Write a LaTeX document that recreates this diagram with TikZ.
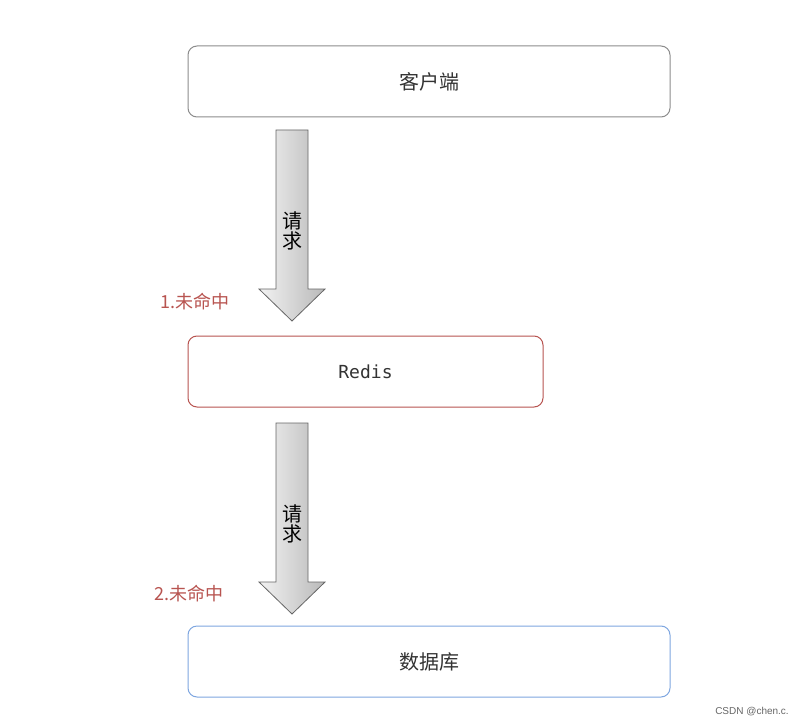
\documentclass[tikz,border=0pt]{standalone}
\usepackage{fontspec}
\setmainfont{Liberation Sans}
\setmonofont{DejaVu Sans Mono}
\newfontfamily\cjk{Noto Sans CJK SC}
\usetikzlibrary{shadings}
\definecolor{redc}{HTML}{B85450}
\definecolor{bluec}{HTML}{7EA6E0}
\definecolor{txt}{HTML}{333333}
\begin{document}
\begin{tikzpicture}[x=1pt,y=-1pt,
  box/.style={draw, rounded corners=9pt, line width=1pt},
  bigarrow/.style={draw=gray!80!black, line width=0.8pt, left color=gray!10, right color=gray!55},
  lbl/.style={font=\cjk\fontsize{20}{22}\selectfont, text=txt},
  miss/.style={font=\cjk\fontsize{18}{20}\selectfont, text=redc}]
\useasboundingbox[fill=white] (0,0) rectangle (810,727);
\node[box, draw=gray!90, minimum width=482pt, minimum height=71pt, lbl] (client) at (429,81.5) {客户端};
\node[box, draw=redc, minimum width=355pt, minimum height=71pt, font=\ttfamily\fontsize{18}{20}\selectfont, text=txt] (redis) at (365.5,371.5) {Redis};
\node[box, draw=bluec, minimum width=482pt, minimum height=71pt, lbl] (db) at (429,661.5) {数据库};
\path[bigarrow] (276,130) -- (308,130) -- (308,289) -- (325,289) -- (292,321) -- (259,289) -- (276,289) -- cycle;
\path[bigarrow] (276,423) -- (308,423) -- (308,582) -- (325,582) -- (292,614) -- (259,582) -- (276,582) -- cycle;
\node[lbl, text=black, align=center, inner sep=0] (r1) at (292,231) {请\\[-2pt]求};
\node[lbl, text=black, align=center, inner sep=0] (r2) at (292,524) {请\\[-2pt]求};
\node[miss] (m1) at (195,302) {1.未命中};
\node[miss] (m2) at (189,594) {2.未命中};
\node[font=\fontsize{10}{12}\selectfont, text=gray!80!black] (wm) at (752,712) {CSDN @chen.c.};
\end{tikzpicture}
\end{document}
